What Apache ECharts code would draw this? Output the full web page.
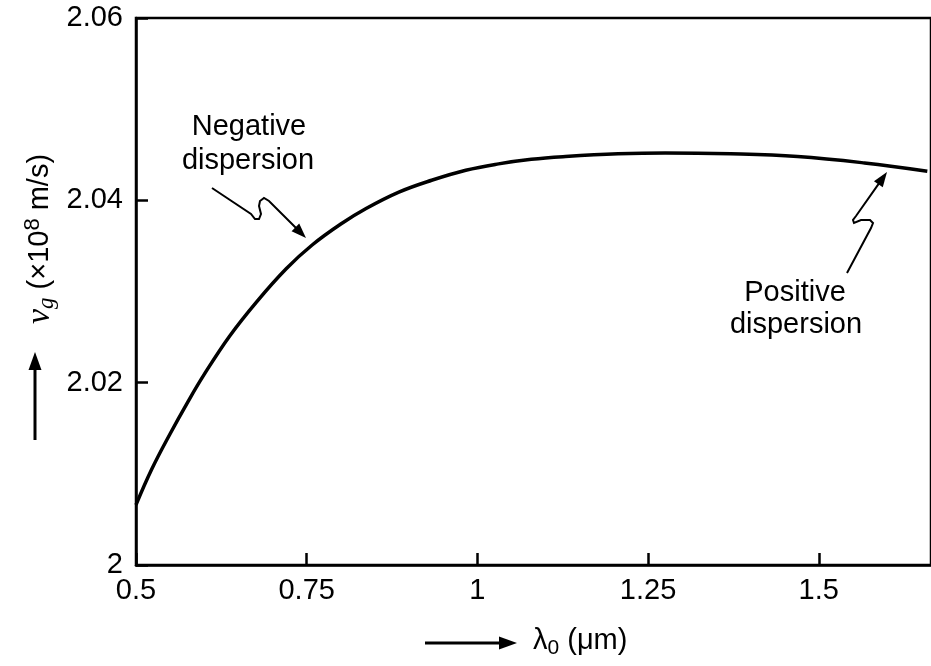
<!DOCTYPE html>
<html>
<head>
<meta charset="utf-8">
<script src="https://cdn.jsdelivr.net/npm/echarts@6/dist/echarts.min.js"></script>
<style>
  html, body { margin: 0; background: #fff; }
  #chart { width: 931px; height: 666px; }
</style>
</head>
<body>
<div id="chart"></div>
<script>
// wavelength lambda0 (um) and group velocity vg (x10^8 m/s)
const wavelength = [0.5, 0.523, 0.55, 0.576, 0.599, 0.637, 0.677, 0.72, 0.758, 0.8, 0.837, 0.885, 0.933, 0.983, 1.031, 1.079, 1.129, 1.206, 1.275, 1.371, 1.469, 1.567, 1.659];
const groupVelocity = [2.0066, 2.0105, 2.0144, 2.0179, 2.0208, 2.0251, 2.0289, 2.0325, 2.0351, 2.0374, 2.0391, 2.0409, 2.0422, 2.0433, 2.0440, 2.0445, 2.0448, 2.0451, 2.0452, 2.0451, 2.0448, 2.0441, 2.0432];

const xTicks = [0.5, 0.75, 1, 1.25, 1.5];
const yTicks = [2, 2.02, 2.04, 2.06];

const FONT = '"Liberation Sans", Arial, sans-serif';
const SIZE = 29;

const chart = echarts.init(document.getElementById('chart'));

// arrow with a filled head at the last point
function arrow(points, head, width) {
  const n = points.length;
  const [tx, ty] = points[n - 1];
  const [px, py] = points[n - 2];
  const len = Math.hypot(tx - px, ty - py);
  const ux = (tx - px) / len, uy = (ty - py) / len;
  const bx = tx - ux * head, by = ty - uy * head;
  const w = head * 0.36;
  const shaft = points.slice(0, n - 1).concat([[bx + ux * 2, by + uy * 2]]);
  return [
    { type: 'polyline', silent: true, shape: { points: shaft },
      style: { stroke: '#000', lineWidth: width, fill: null } },
    { type: 'polygon', silent: true,
      shape: { points: [[tx, ty], [bx - uy * w, by + ux * w], [bx + uy * w, by - ux * w]] },
      style: { fill: '#000' } }
  ];
}

function label(text, x, y) {
  return { type: 'text', x: x, y: y, silent: true,
    style: { text: text, font: SIZE + 'px ' + FONT, fill: '#000', align: 'center', verticalAlign: 'middle' } };
}

const graphics = [].concat(
  label('Negative', 249, 127),
  label('dispersion', 248, 161),
  arrow([[212, 188], [251, 214], [255, 219], [259, 219], [261, 214], [259, 206], [260, 201], [264, 198], [269, 201], [306, 238]], 15, 2),
  label('Positive', 795, 293),
  label('dispersion', 796, 325),
  arrow([[847, 273], [871, 228], [873, 223], [870, 220], [861, 220], [854, 223], [853, 220], [856, 216], [887, 172]], 15, 2),
  // y-axis title with arrow
  arrow([[35, 440], [35, 352]], 18, 3),
  [{
    type: 'text', x: 40, y: 239, rotation: Math.PI / 2, silent: true,
    style: {
      text: '{v|ν}{s|g}{a| (×10}{p|8}{a| m/s)}',
      align: 'center', verticalAlign: 'middle', fill: '#000',
      rich: {
        v: { fontFamily: '"Liberation Serif", serif', fontStyle: 'italic', fontSize: 34, lineHeight: 36 },
        a: { fontFamily: FONT, fontSize: SIZE, lineHeight: 36 },
        s: { fontFamily: '"Liberation Serif", serif', fontStyle: 'italic', fontSize: 23, lineHeight: 22, verticalAlign: 'bottom' },
        p: { fontFamily: FONT, fontSize: 22, lineHeight: 20, verticalAlign: 'top' }
      }
    }
  }],
  // x-axis title with arrow
  arrow([[425, 643], [517, 643]], 18, 3),
  [{
    type: 'text', x: 533, y: 641, silent: true,
    style: {
      text: '{a|λ}{s|0}{a| (μm)}',
      align: 'left', verticalAlign: 'middle', fill: '#000',
      rich: {
        a: { fontFamily: FONT, fontSize: SIZE, lineHeight: 36 },
        s: { fontFamily: FONT, fontSize: 21, lineHeight: 22, verticalAlign: 'bottom' }
      }
    }
  }]
);

const option = {
  animation: false,
  backgroundColor: '#fff',
  grid: {
    left: 136, right: -3, top: 18, bottom: 101,
    show: true, borderColor: '#000', borderWidth: 2.5
  },
  xAxis: {
    type: 'value',
    min: xTicks[0],
    max: 1.6644,
    interval: xTicks[1] - xTicks[0],
    axisLine: { show: true, onZero: false, lineStyle: { color: '#000', width: 2.5 } },
    axisTick: { show: true, inside: true, length: 12, lineStyle: { color: '#000', width: 2.5 } },
    splitLine: { show: false },
    axisLabel: {
      color: '#000', fontSize: SIZE, fontFamily: FONT, margin: 11,
      showMaxLabel: false,
      formatter: v => xTicks.includes(+v.toFixed(2)) ? String(+v.toFixed(2)) : ''
    }
  },
  yAxis: {
    type: 'value',
    min: yTicks[0],
    max: yTicks[yTicks.length - 1],
    interval: 0.02,
    axisLine: { show: true, lineStyle: { color: '#000', width: 2.5 } },
    axisTick: { show: true, inside: true, length: 12, lineStyle: { color: '#000', width: 2.5 } },
    splitLine: { show: false },
    axisLabel: {
      color: '#000', fontSize: SIZE, fontFamily: FONT, margin: 13,
      formatter: v => String(+v.toFixed(2))
    }
  },
  series: [{
    type: 'line',
    data: wavelength.map((x, i) => [x, groupVelocity[i]]),
    smooth: 0.4,
    symbol: 'none',
    lineStyle: { color: '#000', width: 3.5 }
  }],
  graphic: graphics
};

chart.setOption(option);
</script>
</body>
</html>
